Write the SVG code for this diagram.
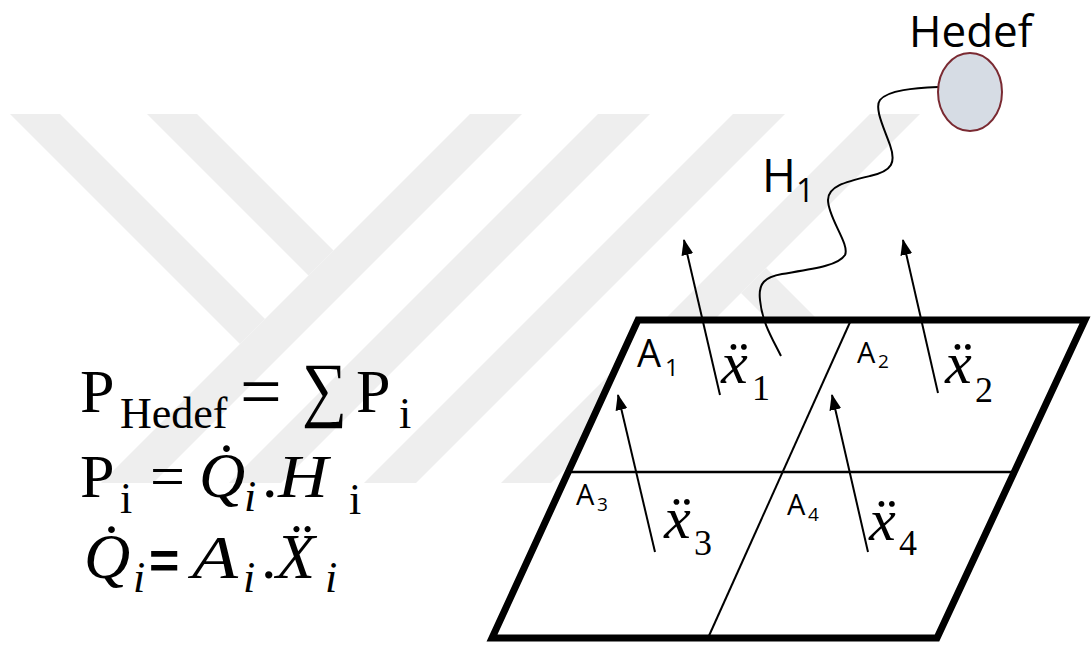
<svg xmlns="http://www.w3.org/2000/svg" width="1091" height="650" viewBox="0 0 1091 650">
  <style>
    .wm { fill: #eeeeee; stroke: none; }
    .plate { fill: #ffffff; stroke: #000; stroke-width: 7; stroke-linejoin: miter; }
    .thin { stroke: #000; stroke-width: 2; fill: none; }
    .arrow { stroke: #000; stroke-width: 2; fill: none; marker-end: url(#ah); }
    .sans { font-family: "Open Sans", "Noto Sans", "DejaVu Sans", sans-serif; fill: #000; }
    .serif { font-family: "Liberation Serif", "DejaVu Serif", serif; fill: #000; }
    .it { font-style: italic; }
  </style>
  <defs>
    <marker id="ah" viewBox="0 0 16 12" refX="15" refY="6" markerWidth="16" markerHeight="12" markerUnits="userSpaceOnUse" orient="auto">
      <path d="M0,0 L16,6 L0,12 z" fill="#000"/>
    </marker>
  </defs>
  <rect width="1091" height="650" fill="#ffffff"/>

  <g id="watermark">
    <polygon class="wm" points="10,114 60,114 265,319 240,344"/>
    <polygon class="wm" points="147,114 197,114 333.5,250.5 308.5,275.5"/>
    <polygon class="wm" points="470,114 522,114 153,483 101,483"/>
    <polygon class="wm" points="598,114 650,114 281,483 229,483"/>
    <polygon class="wm" points="733,114 785,114 416,483 364,483"/>
    <polygon class="wm" points="870,114 920,114 551,483 501,483"/>
    <polygon class="wm" points="766,268 741,293 931,483 981,483"/>
  </g>

  <g id="plate">
    <polygon class="plate" points="638,320 1085,320 937,638 492,638"/>
    <line class="thin" x1="568" y1="472" x2="1014" y2="472" style="stroke-width:2.5"/>
    <line class="thin" x1="851" y1="320" x2="708" y2="638"/>
  </g>

  <g id="area-labels" class="sans">
    <text x="637" y="367" font-size="38">A</text><text x="665" y="376" font-size="24">1</text>
    <text x="857" y="363" font-size="29">A</text><text x="878" y="368" font-size="19">2</text>
    <text x="576" y="505" font-size="29">A</text><text x="597" y="511" font-size="19">3</text>
    <text x="787" y="515" font-size="29">A</text><text x="808" y="521" font-size="19">4</text>
  </g>

  <g id="accel-labels" class="serif">
    <text x="721" y="383" font-size="60" class="serif it">x&#776;</text><text x="752" y="400" font-size="36">1</text>
    <text x="945" y="383" font-size="60" class="serif it">x&#776;</text><text x="975" y="402" font-size="36">2</text>
    <text x="664" y="538" font-size="60" class="serif it">x&#776;</text><text x="694" y="555" font-size="36">3</text>
    <text x="869" y="540" font-size="60" class="serif it">x&#776;</text><text x="899" y="555" font-size="36">4</text>
  </g>

  <g id="connectors">
    <line class="arrow" x1="720" y1="395" x2="684" y2="240"/>
    <line class="arrow" x1="938" y1="393" x2="903" y2="240"/>
    <line class="arrow" x1="655" y1="552" x2="618" y2="395"/>
    <line class="arrow" x1="868" y1="552" x2="832" y2="395"/>
    <path class="thin" d="M 781 356 C 772 338, 762 322, 760 300 C 758 283, 765 277, 782 274 C 812 269, 838 266, 845 255 C 850 244, 828 218, 828 200 C 828 186, 845 182, 870 176 C 893 171, 896 162, 890 145 C 884 128, 874 108, 880 100 C 888 90, 915 88, 938 87"/>
  </g>

  <g id="target">
    <ellipse cx="970" cy="92" rx="32" ry="39" fill="#d6dce4" stroke="#7a2a32" stroke-width="2"/>
    <text class="sans" x="909" y="47" font-size="44">Hedef</text>
  </g>

  <g id="h1-label" class="sans">
    <text x="762" y="192" font-size="46">H</text><text x="796" y="202" font-size="32">1</text>
  </g>

  <g id="formula" class="serif">
    <text x="80" y="412" font-size="62">P</text>
    <text x="120" y="428" font-size="44">Hedef</text>
    <text x="240" y="416" font-size="74">=</text>
    <text x="302" y="413" font-size="72" textLength="45" lengthAdjust="spacingAndGlyphs">&#8721;</text>
    <text x="356" y="412" font-size="62">P</text>
    <text x="399" y="428" font-size="44">i</text>

    <text x="80" y="497" font-size="62">P</text>
    <text x="120" y="513" font-size="44">i</text>
    <text x="150" y="497" font-size="62">=</text>
    <text x="199" y="497" font-size="64" class="serif it">Q&#775;</text>
    <text x="244" y="511" font-size="44" class="serif it">i</text>
    <text x="262" y="497" font-size="62">.</text>
    <text x="278" y="497" font-size="62" class="serif it" textLength="50" lengthAdjust="spacingAndGlyphs">H</text>
    <text x="349" y="514" font-size="44">i</text>

    <text x="84" y="578" font-size="64" class="serif it">Q&#775;</text>
    <text x="133" y="592" font-size="44" class="serif it">i</text>
    <text x="149" y="578" font-size="52" font-family="Liberation Sans, sans-serif" font-weight="bold">=</text>
    <text x="192" y="578" font-size="62" class="serif it" textLength="46" lengthAdjust="spacingAndGlyphs">A</text>
    <text x="243" y="592" font-size="44" class="serif it">i</text>
    <text x="261" y="578" font-size="62">.</text>
    <text x="276" y="578" font-size="64" class="serif it">X&#776;</text>
    <text x="325" y="592" font-size="44" class="serif it">i</text>
  </g>
</svg>
